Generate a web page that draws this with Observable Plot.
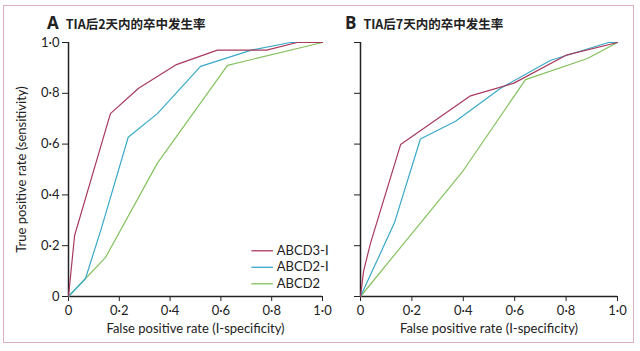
<!DOCTYPE html>
<html><head><meta charset="utf-8">
<script src="https://cdn.jsdelivr.net/npm/d3@7"></script>
<script src="https://cdn.jsdelivr.net/npm/@observablehq/plot@0.6"></script>
<style>
body{margin:0;background:#fff;font-family:Lato,"Open Sans",sans-serif;}
#wrap{position:relative;width:640px;height:351px;overflow:hidden;}
#box{position:absolute;left:3px;top:5px;width:629px;height:336px;border:1.5px solid #dcb0bf;}
.pl{position:absolute;top:0;}
.ttl{position:absolute;top:15px;font-weight:bold;color:#222;white-space:nowrap;line-height:16px;}
.ttl .l{font-size:17px;margin-right:7px;font-family:"Open Sans",sans-serif;}
.ttl .t{font-size:12.5px;font-family:"Noto Sans CJK SC",sans-serif;}
</style></head>
<body><div id="wrap"><div id="box"></div>
<div id="pa" class="pl" style="left:0"></div>
<div id="pb" class="pl" style="left:320px"></div>
<div class="ttl" style="left:47px"><span class="l">A</span><span class="t">TIA后2天内的卒中发生率</span></div>
<div class="ttl" style="left:345px"><span class="l">B</span><span class="t">TIA后7天内的卒中发生率</span></div>
</div>
<script>
const seriesNames = ["ABCD3-I", "ABCD2-I", "ABCD2"];
const colors = ["#a83a5c", "#3aa9c9", "#84c25e"];
const ticks = [0, 0.2, 0.4, 0.6, 0.8, 1.0];

// Panel A: 2 days
const a_abcd3i_x = [0, 0.024, 0.165, 0.276, 0.425, 0.586, 0.78, 0.9, 1.0];
const a_abcd3i_y = [0, 0.24, 0.72, 0.82, 0.913, 0.97, 0.97, 1.0, 1.0];
const a_abcd2i_x = [0, 0.067, 0.13, 0.235, 0.35, 0.52, 0.72, 0.874, 1.0];
const a_abcd2i_y = [0, 0.071, 0.27, 0.627, 0.72, 0.906, 0.97, 1.0, 1.0];
const a_abcd2_x = [0, 0.146, 0.35, 0.626, 1.0];
const a_abcd2_y = [0, 0.154, 0.525, 0.91, 1.0];

// Panel B: 7 days
const b_abcd3i_x = [0, 0.012, 0.039, 0.156, 0.428, 0.597, 0.8, 1.0];
const b_abcd3i_y = [0, 0.10, 0.21, 0.598, 0.79, 0.84, 0.95, 1.0];
const b_abcd2i_x = [0, 0.132, 0.233, 0.37, 0.545, 0.74, 0.965, 1.0];
const b_abcd2i_y = [0, 0.29, 0.62, 0.69, 0.82, 0.93, 1.0, 1.0];
const b_abcd2_x = [0, 0.4, 0.642, 0.883, 1.0];
const b_abcd2_y = [0, 0.496, 0.854, 0.937, 1.0];

function rows(xs, ys, s){ return xs.map((x,i)=>({x, y: ys[i], s})); }
const dataA = [...rows(a_abcd2_x,a_abcd2_y,"ABCD2"), ...rows(a_abcd2i_x,a_abcd2i_y,"ABCD2-I"), ...rows(a_abcd3i_x,a_abcd3i_y,"ABCD3-I")];
const dataB = [...rows(b_abcd2_x,b_abcd2_y,"ABCD2"), ...rows(b_abcd2i_x,b_abcd2i_y,"ABCD2-I"), ...rows(b_abcd3i_x,b_abcd3i_y,"ABCD3-I")];

const fmt = d => d === 0 ? "0" : d.toFixed(1).replace(".", "·");

function panel(data, opts){
  const marks = [
    Plot.axisY({ticks, tickSize: 6, tickFormat: opts.ylabels ? fmt : () => "", tickPadding: 3, fontSize: 13,
      label: opts.ylabels ? "True positive rate (sensitivity)" : null, labelAnchor: "center", labelArrow: "none", labelOffset: 52}),
    Plot.axisX({ticks, tickSize: 5, tickFormat: fmt, tickPadding: 4, fontSize: 13,
      label: "False positive rate (I-specificity)", labelAnchor: "center", labelArrow: "none", labelOffset: 36}),
    Plot.ruleX([0], {y1: 0, y2: 1, stroke: "#222", strokeWidth: 1.5}),
    Plot.ruleY([0], {x1: 0, x2: 1, stroke: "#222", strokeWidth: 1.5}),
    Plot.line(data, {x: "x", y: "y", z: "s", stroke: "s", strokeWidth: 1.2})
  ];
  if (opts.legend) {
    const leg = seriesNames.map((s, i) => ({s, i}));
    marks.push(
      Plot.link(leg, {x1: 0.72, x2: 0.805, y1: d => 0.18 - d.i * 0.065, y2: d => 0.18 - d.i * 0.065, stroke: "s", strokeWidth: 1.3}),
      Plot.text(leg, {x: 0.82, y: d => 0.18 - d.i * 0.065, text: "s", textAnchor: "start", fontSize: 13, fill: "#222"})
    );
  }
  return Plot.plot({
    width: opts.width, height: 351,
    marginLeft: opts.ml, marginRight: opts.width - opts.ml - opts.w, marginTop: 42, marginBottom: 55,
    style: {fontFamily: "Lato, 'Open Sans', sans-serif", color: "#222", background: "transparent"},
    x: {domain: [0, 1]},
    y: {domain: [0, 1]},
    color: {domain: seriesNames, range: colors},
    marks
  });
}
document.getElementById("pa").append(panel(dataA, {width: 340, ml: 68, w: 254, ylabels: true, legend: true}));
document.getElementById("pb").append(panel(dataB, {width: 320, ml: 40, w: 257, ylabels: false, legend: false}));
</script></body></html>
